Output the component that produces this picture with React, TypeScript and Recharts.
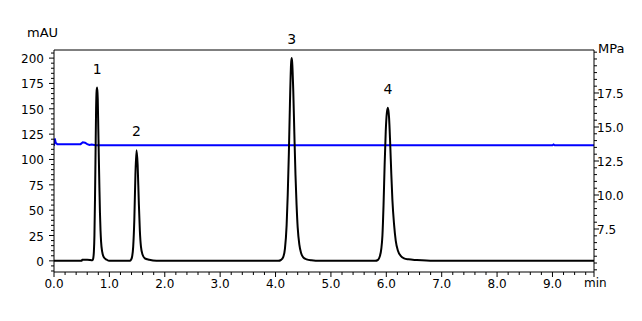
import React from 'react';
import { ComposedChart, Line, XAxis, YAxis, ReferenceLine, ReferenceDot } from 'recharts';

const FONT = '"DejaVu Sans", Verdana, sans-serif';

// Chromatogram (UV signal, mAU)
const chromTime = [
  0.0, 0.5, 0.51, 0.6, 0.66, 0.69,
  0.7, 0.71, 0.72, 0.73, 0.74, 0.75, 0.76, 0.77, 0.78, 0.79, 0.8, 0.81, 0.82, 0.83, 0.84, 0.85, 0.87, 0.9, 0.95, 1.0,
  1.37, 1.39, 1.41, 1.43, 1.45, 1.47, 1.49, 1.51, 1.53, 1.55, 1.57, 1.6, 1.64, 1.72, 1.85,
  4.05, 4.1, 4.14, 4.17, 4.2, 4.22, 4.24, 4.26, 4.28, 4.29, 4.3, 4.32, 4.34, 4.36, 4.38, 4.4, 4.43, 4.46, 4.5, 4.56, 4.65, 4.8,
  5.8, 5.85, 5.88, 5.91, 5.93, 5.95, 5.97, 5.99, 6.01, 6.03, 6.05, 6.07, 6.09, 6.11, 6.14, 6.17, 6.21, 6.26, 6.32, 6.4, 6.55, 6.85,
  9.75,
];
const chromSignal = [
  0, 0, 1.2, 1.2, 0.8, 0.5,
  1, 3, 9, 25, 60, 105, 150, 168, 171, 160, 130, 100, 72, 47, 30, 19, 9, 3.5, 1.2, 0,
  0, 1, 4, 14, 40, 85, 109, 95, 60, 30, 14, 6, 2.5, 1, 0,
  0, 1, 4, 12, 35, 65, 105, 155, 194, 200, 196, 168, 125, 85, 55, 33, 16, 8, 3.5, 1.5, 0.5, 0,
  0, 1, 4, 12, 25, 55, 95, 128, 146, 151, 141, 116, 86, 60, 36, 20, 10, 5, 2.5, 1.5, 0.8, 0,
  0,
];

// Pump pressure (MPa)
const pressTime = [0.0, 0.015, 0.03, 0.06, 0.48, 0.52, 0.56, 0.6, 0.64, 0.68, 0.75, 9.0, 9.02, 9.04, 9.75];
const pressValue = [13.62, 14.15, 13.85, 13.74, 13.74, 13.88, 13.84, 13.74, 13.68, 13.72, 13.66, 13.66, 13.72, 13.66, 13.66];

// Peak annotations
const peakNames = ['1', '2', '3', '4'];
const peakTimes = [0.78, 1.49, 4.29, 6.03];
const peakHeights = [171, 109, 200, 151];

// Axis ticks
const xMajor = [0, 1, 2, 3, 4, 5, 6, 7, 8, 9];
const leftMajor = [0, 25, 50, 75, 100, 125, 150, 175, 200];
const rightMajor = [7.5, 10, 12.5, 15, 17.5];

const range = (a: number, b: number, s: number) => {
  const out: number[] = [];
  for (let v = a; v <= b + 1e-9; v += s) out.push(Math.round(v * 1000) / 1000);
  return out;
};
const xTicks = [...range(0, 9.6, 0.2), 9.75];
const leftTicks = range(-10, 205, 5);
const rightTicks = range(4.5, 20.5, 0.5);

const isIn = (arr: number[], v: number) => arr.some((m) => Math.abs(m - v) < 1e-6);

// merge into one table
const tableMap = new Map<number, any>();
chromTime.forEach((t, i) => {
  tableMap.set(t, { ...(tableMap.get(t) || { t }), signal: chromSignal[i] });
});
pressTime.forEach((t, i) => {
  tableMap.set(t, { ...(tableMap.get(t) || { t }), pressure: pressValue[i] });
});
const table = Array.from(tableMap.values()).sort((a, b) => a.t - b.t);

const XTick = (props: any) => {
  const { x, y, payload } = props;
  const v = payload.value;
  const major = isIn(xMajor, v) || Math.abs(v - 9.75) < 1e-6;
  const label = isIn(xMajor, v);
  return (
    <g>
      <line x1={x} x2={x} y1={y} y2={y + (major ? 5 : 3)} stroke="#000" strokeWidth={1} />
      {label && (
        <text x={x} y={y + 16} textAnchor="middle" fontSize={12} fontFamily={FONT} fill="#000">
          {v.toFixed(1)}
        </text>
      )}
    </g>
  );
};

const LeftTick = (props: any) => {
  const { x, y, payload } = props;
  const v = payload.value;
  const major = isIn(leftMajor, v);
  return (
    <g>
      <line x1={x} x2={x - (major ? 5 : 3)} y1={y} y2={y} stroke="#000" strokeWidth={1} />
      {major && (
        <text x={x - 10} y={y + 5} textAnchor="end" fontSize={12} fontFamily={FONT} fill="#000">
          {v}
        </text>
      )}
    </g>
  );
};

const RightTick = (props: any) => {
  const { x, y, payload } = props;
  const v = payload.value;
  const major = isIn(rightMajor, v);
  return (
    <g>
      <line x1={x} x2={x + (major ? 5 : 3)} y1={y} y2={y} stroke="#000" strokeWidth={1} />
      {major && (
        <text x={x + 3} y={y + 5} textAnchor="start" fontSize={12} fontFamily={FONT} fill="#000">
          {v.toFixed(1)}
        </text>
      )}
    </g>
  );
};

export default function App() {
  return (
    <div style={{ position: 'relative', width: 642, height: 321, background: '#fff' }}>
      <style>{'body{margin:0;background:#fff}'}</style>
      <ComposedChart width={642} height={321} data={table} margin={{ top: 50, right: 0, bottom: 19, left: 0 }}>
        <XAxis
          dataKey="t"
          type="number"
          domain={[0, 9.75]}
          ticks={xTicks}
          interval={0}
          tickSize={0}
          tickMargin={0}
          height={30}
          tick={(p: any) => <XTick {...p} />}
          axisLine={{ stroke: '#000' }}
          tickLine={false}
          allowDataOverflow
        />
        <YAxis
          yAxisId="left"
          type="number"
          domain={[-11, 208]}
          ticks={leftTicks}
          interval={0}
          width={54}
          tickSize={0}
          tickMargin={0}
          tick={(p: any) => <LeftTick {...p} />}
          axisLine={{ stroke: '#000' }}
          tickLine={false}
          allowDataOverflow
        />
        <YAxis
          yAxisId="right"
          orientation="right"
          type="number"
          domain={[4.34, 20.66]}
          ticks={rightTicks}
          interval={0}
          width={48}
          tickSize={0}
          tickMargin={0}
          tick={(p: any) => <RightTick {...p} />}
          axisLine={{ stroke: '#000' }}
          tickLine={false}
          allowDataOverflow
        />
        <ReferenceLine yAxisId="left" y={208} stroke="#000" strokeWidth={1} />
        <Line
          yAxisId="right"
          dataKey="pressure"
          type="linear"
          stroke="#0000ff"
          strokeWidth={2}
          dot={false}
          connectNulls
          isAnimationActive={false}
        />
        <Line
          yAxisId="left"
          dataKey="signal"
          type="monotone"
          stroke="#000"
          strokeWidth={2}
          dot={false}
          connectNulls
          isAnimationActive={false}
        />
        {peakNames.map((n, i) => (
          <ReferenceDot
            key={n}
            yAxisId="left"
            x={peakTimes[i]}
            y={peakHeights[i]}
            r={0}
            fill="none"
            stroke="none"
            label={{ value: n, position: 'top', offset: 14, fill: '#000', fontSize: 14, fontFamily: FONT }}
          />
        ))}
      </ComposedChart>
      <div style={{ position: 'absolute', left: 27, top: 25, fontSize: 13, lineHeight: '15px', fontFamily: FONT, color: '#000' }}>
        mAU
      </div>
      <div style={{ position: 'absolute', left: 598, top: 41, fontSize: 13, lineHeight: '15px', fontFamily: FONT, color: '#000' }}>
        MPa
      </div>
      <div style={{ position: 'absolute', left: 584, top: 276, fontSize: 12, lineHeight: '14px', fontFamily: FONT, color: '#000' }}>
        min
      </div>
    </div>
  );
}
